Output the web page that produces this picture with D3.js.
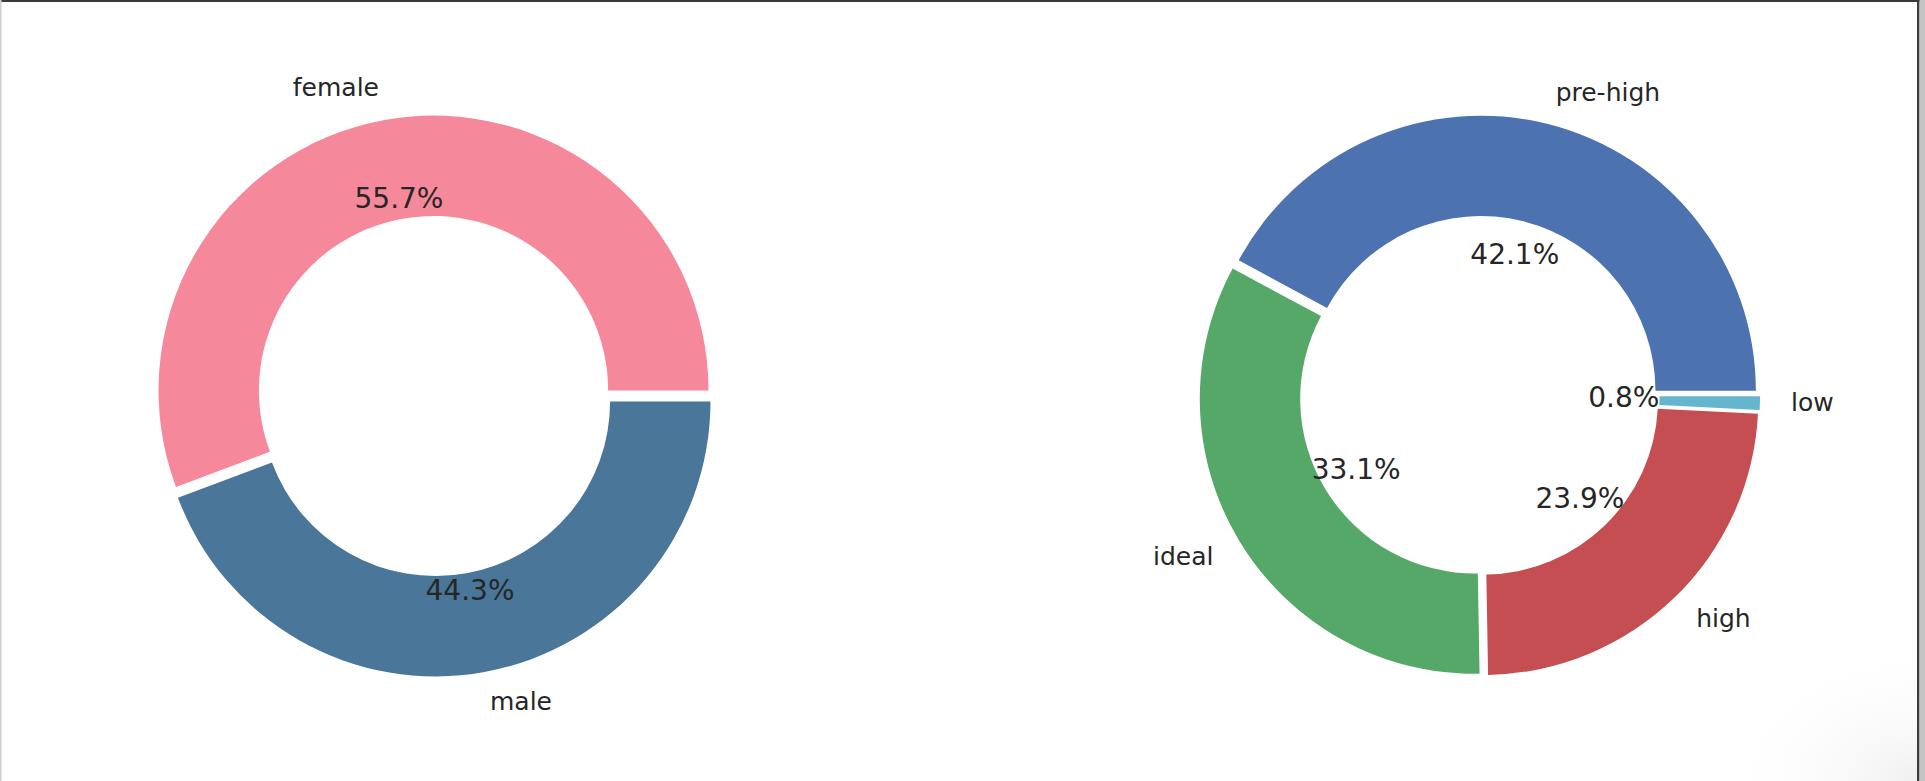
<!DOCTYPE html>
<html>
<head>
<meta charset="utf-8">
<script src="https://cdn.jsdelivr.net/npm/d3@7"></script>
<style>
  html, body { margin: 0; padding: 0; background: #fff; }
  svg { display: block; }
  text { font-family: "DejaVu Sans", sans-serif; fill: #262626; }
</style>
</head>
<body>
<svg id="chart" width="1925" height="781"></svg>
<script>
// ---- data ----
const genderLabels = ["female", "male"];
const genderValues = [55.7, 44.3];
const genderColors = ["#F5899B", "#4A7699"];

const bpLabels = ["pre-high", "ideal", "high", "low"];
const bpValues = [42.1, 33.1, 23.9, 0.8];
const bpColors = ["#4C72B0", "#55A868", "#C44E52", "#64B5CD"];

// ---- layout ----
const W = 1925, H = 781;
const svg = d3.select("#chart");

// frame details of the screenshot
const defs = svg.append("defs");
const grad = defs.append("radialGradient").attr("id", "shadow")
  .attr("cx", "100%").attr("cy", "100%").attr("r", "100%");
grad.append("stop").attr("offset", "0%").attr("stop-color", "#f0f0f0");
grad.append("stop").attr("offset", "100%").attr("stop-color", "#ffffff").attr("stop-opacity", 0);
svg.append("rect").attr("x", 1717).attr("y", 640).attr("width", 200).attr("height", 141)
  .attr("fill", "url(#shadow)");
svg.append("rect").attr("x", 0).attr("y", 0).attr("width", W).attr("height", 2).attr("fill", "#3a3a3a");
svg.append("rect").attr("x", 0).attr("y", 0).attr("width", 1.5).attr("height", H).attr("fill", "#cfcfcf");
svg.append("rect").attr("x", 1917).attr("y", 0).attr("width", 2.5).attr("height", H).attr("fill", "#3c3c3c");
svg.append("rect").attr("x", 1919.5).attr("y", 0).attr("width", 5.5).attr("height", H).attr("fill", "#c4c4c4");

const R = 275;
const innerRatio = 0.635;
const explode = 0.02;
const labelDist = 1.113;

function donut(cx, cy, labels, values, colors, pctDist) {
  const g = svg.append("g").attr("transform", `translate(${cx},${cy})`);
  const pie = d3.pie().sort(null).startAngle(Math.PI / 2).endAngle(Math.PI / 2 - 2 * Math.PI);
  const arcs = pie(values);
  const arc = d3.arc().innerRadius(R * innerRatio).outerRadius(R);
  const color = d3.scaleOrdinal().domain(labels).range(colors);

  arcs.forEach((d, i) => {
    const m = (d.startAngle + d.endAngle) / 2;
    const ux = Math.sin(m), uy = -Math.cos(m);
    const ox = ux * explode * R, oy = uy * explode * R;
    const wg = g.append("g").attr("transform", `translate(${ox},${oy})`);
    wg.append("path").attr("d", arc(d)).attr("fill", color(labels[i]));

    // outer label
    const lx = ux * labelDist * R, ly = uy * labelDist * R;
    wg.append("text")
      .attr("x", lx).attr("y", ly).attr("dy", "0.28em")
      .attr("text-anchor", lx > 0 ? "start" : "end")
      .attr("font-size", 25)
      .text(labels[i]);

    // percentage label
    wg.append("text")
      .attr("x", ux * pctDist * R).attr("y", uy * pctDist * R).attr("dy", "0.28em")
      .attr("text-anchor", "middle")
      .attr("font-size", 28)
      .text(values[i].toFixed(1) + "%");
  });
}

donut(434.5, 396, genderLabels, genderValues, genderColors, 0.705);
donut(1479.5, 396, bpLabels, bpValues, bpColors, 0.505);
</script>
</body>
</html>
